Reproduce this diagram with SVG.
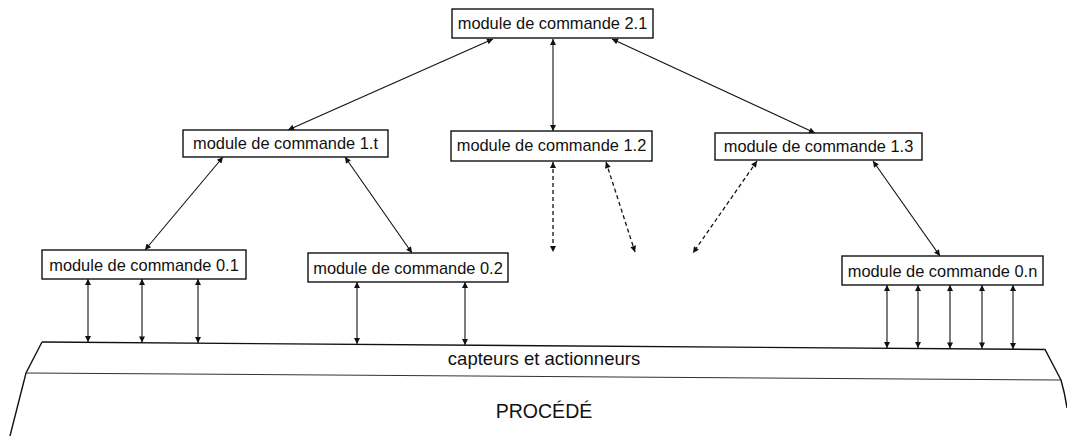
<svg xmlns="http://www.w3.org/2000/svg" width="1067" height="436" viewBox="0 0 1067 436">
  <style>
    .box { fill: #ffffff; stroke: #111111; stroke-width: 1.4; }
    .lbl { font-family: "Liberation Sans", Arial, sans-serif; font-size: 16.4px; fill: #111111; text-anchor: middle; }
    .big { font-family: "Liberation Sans", Arial, sans-serif; fill: #111111; text-anchor: middle; }
    .conn { stroke: #111111; stroke-width: 1.1; fill: none; marker-start: url(#ah); marker-end: url(#ah); }
    .dash { stroke-dasharray: 4 3; stroke-width: 1.3; }
    .plat { stroke: #111111; stroke-width: 1.4; fill: none; }
    .thin { stroke: #333333; stroke-width: 1.1; }
  </style>
  <defs>
    <marker id="ah" viewBox="0 0 10 10" refX="10" refY="5" markerWidth="8" markerHeight="6" markerUnits="userSpaceOnUse" orient="auto-start-reverse">
      <path d="M0,0 L10,5 L0,10 z" fill="#111111"/>
    </marker>
  </defs>
  <rect width="1067" height="436" fill="#ffffff"/>

  <g id="platform">
    <path class="plat" d="M42,342 L1045,349.5 L1061,380 Q1065,394 1067,408"/>
    <path class="plat" d="M42,342 L26,373 L10,436"/>
    <path class="plat thin" d="M26,373 L1061,380"/>
    <text class="big" x="544" y="365" font-size="18.5">capteurs et actionneurs</text>
    <text class="big" x="544" y="418" font-size="19.5">PROCÉDÉ</text>
  </g>

  <g id="connectors">
    <line class="conn" x1="493" y1="39" x2="288" y2="130"/>
    <line class="conn" x1="553" y1="39" x2="553" y2="131"/>
    <line class="conn" x1="612" y1="39" x2="815" y2="133"/>
    <line class="conn" x1="223" y1="157" x2="145" y2="250"/>
    <line class="conn" x1="345" y1="157" x2="412" y2="253"/>
    <line class="conn dash" x1="553" y1="162" x2="553" y2="252"/>
    <line class="conn dash" x1="606" y1="162" x2="635" y2="252"/>
    <line class="conn dash" x1="757" y1="161" x2="693" y2="253"/>
    <line class="conn" x1="873" y1="161" x2="940" y2="256"/>
    <line class="conn" x1="88" y1="279" x2="88" y2="342"/>
    <line class="conn" x1="142" y1="279" x2="142" y2="342.5"/>
    <line class="conn" x1="198" y1="279" x2="198" y2="343"/>
    <line class="conn" x1="357" y1="282" x2="357" y2="344"/>
    <line class="conn" x1="465" y1="282" x2="465" y2="345"/>
    <line class="conn" x1="887" y1="285" x2="887" y2="348"/>
    <line class="conn" x1="918" y1="285" x2="918" y2="348"/>
    <line class="conn" x1="950" y1="285" x2="950" y2="348.5"/>
    <line class="conn" x1="982" y1="285" x2="982" y2="348.5"/>
    <line class="conn" x1="1013" y1="285" x2="1013" y2="349"/>
  </g>

  <g id="m21">
    <rect class="box" x="452" y="9" width="201" height="29"/>
    <text class="lbl" x="552.5" y="29">module de commande 2.1</text>
  </g>
  <g id="m11">
    <rect class="box" x="183" y="130" width="205" height="27"/>
    <text class="lbl" x="285.5" y="149">module de commande 1.t</text>
  </g>
  <g id="m12">
    <rect class="box" x="451" y="131" width="201" height="30"/>
    <text class="lbl" x="551.5" y="151">module de commande 1.2</text>
  </g>
  <g id="m13">
    <rect class="box" x="715" y="133" width="207" height="27"/>
    <text class="lbl" x="818.5" y="152">module de commande 1.3</text>
  </g>
  <g id="m01">
    <rect class="box" x="42" y="250" width="204" height="29"/>
    <text class="lbl" x="144" y="271">module de commande 0.1</text>
  </g>
  <g id="m02">
    <rect class="box" x="308" y="253" width="200" height="29"/>
    <text class="lbl" x="408" y="274">module de commande 0.2</text>
  </g>
  <g id="m0n">
    <rect class="box" x="842" y="256" width="201" height="29"/>
    <text class="lbl" x="942.5" y="277">module de commande 0.n</text>
  </g>
</svg>
